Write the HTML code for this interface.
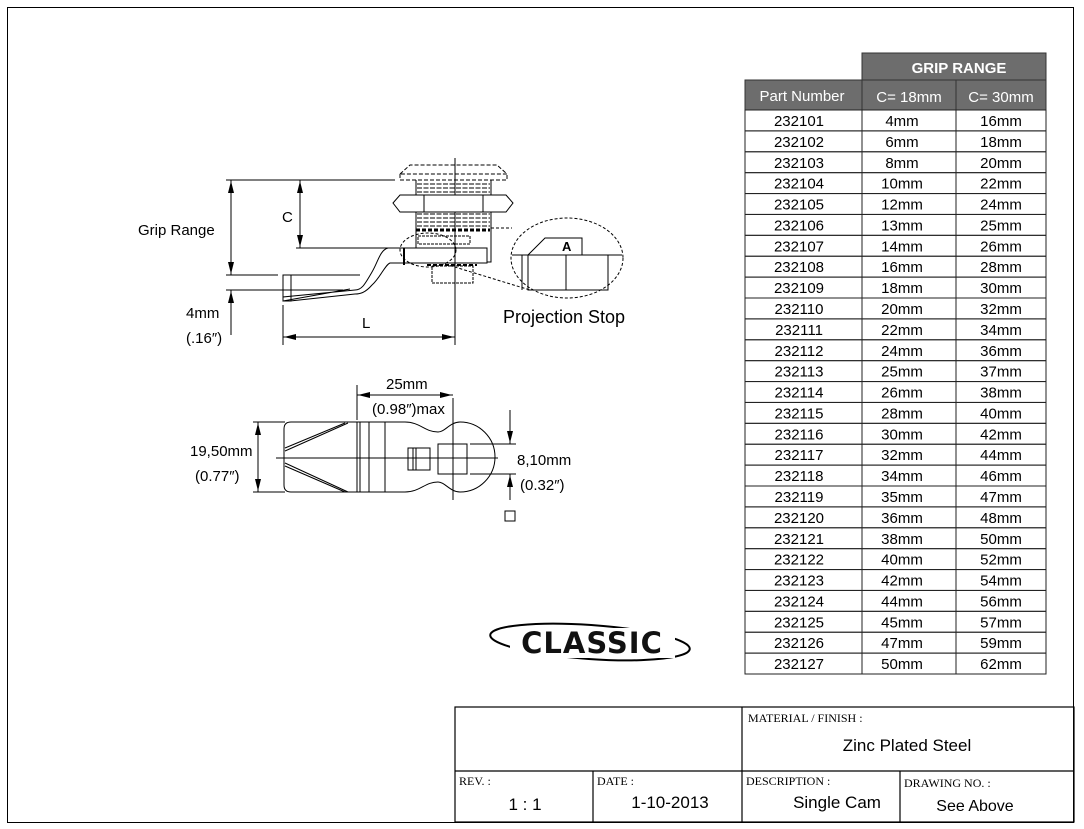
<!DOCTYPE html>
<html><head><meta charset="utf-8"><style>
body{margin:0;background:#fff;width:1084px;height:829px;overflow:hidden;font-family:"Liberation Sans",sans-serif}
svg{position:absolute;left:0;top:0}
</style></head><body>
<svg width="1084" height="829" viewBox="0 0 1084 829" font-family="Liberation Sans, sans-serif">
<rect x="7.5" y="7.5" width="1066" height="815" fill="none" stroke="#000"/>
<!-- table -->
<rect x="862" y="53" width="184" height="27" fill="#6d6d6d" stroke="#333"/>
<text x="959" y="73" fill="#fff" font-size="15" font-weight="bold" text-anchor="middle">GRIP RANGE</text>
<rect x="745" y="80" width="301" height="30" fill="#6d6d6d" stroke="#333"/>
<line x1="862" y1="80" x2="862" y2="110" stroke="#333"/>
<line x1="956" y1="80" x2="956" y2="110" stroke="#333"/>
<text x="802" y="101" fill="#fff" font-size="15" text-anchor="middle">Part Number</text>
<text x="909" y="102" fill="#fff" font-size="15" text-anchor="middle">C= 18mm</text>
<text x="1001" y="102" fill="#fff" font-size="15" text-anchor="middle">C= 30mm</text>
<g id="rows" font-size="15" text-anchor="middle"></g>
<!-- title block -->
<g stroke="#000" fill="none" stroke-width="1.2">
<rect x="455" y="707" width="619" height="115"/>
<line x1="455" y1="771" x2="1074" y2="771"/>
<line x1="742" y1="707" x2="742" y2="822"/>
<line x1="593" y1="771" x2="593" y2="822"/>
<line x1="900" y1="771" x2="900" y2="822"/>
</g>
<g font-family="Liberation Serif, serif" font-size="12">
<text x="748" y="722">MATERIAL / FINISH :</text>
<text x="459" y="785">REV. :</text>
<text x="597" y="785">DATE :</text>
<text x="746" y="785">DESCRIPTION :</text>
<text x="904" y="787">DRAWING NO. :</text>
</g>
<g font-size="17" text-anchor="middle">
<text x="907" y="751">Zinc Plated Steel</text>
<text x="525" y="810">1 : 1</text>
<text x="670" y="808">1-10-2013</text>
<text x="837" y="808">Single Cam</text>
<text x="975" y="811" font-size="16">See Above</text>
</g>
<!-- logo -->
<ellipse cx="590" cy="642" rx="100" ry="17" fill="none" stroke="#000" stroke-width="2" transform="rotate(4 590 642)"/>
<rect x="510" y="628" width="165" height="30" fill="#fff"/>
<text x="592" y="653" font-size="29" font-weight="900" text-anchor="middle" font-family="DejaVu Sans, sans-serif" fill="#111" letter-spacing="1">CLASSIC</text>
<!-- top drawing -->
<g stroke="#000" fill="none" stroke-width="1">
<line x1="455" y1="158" x2="455" y2="345"/>
<path d="M400,174 L410,165 L497,165 L507,174 L400,174 M400,174 L400,180 L507,180 L507,174" stroke-dasharray="4,2"/>
<path d="M416,180 L416,248 M491,180 L491,262 L487,262"/>
<g stroke-dasharray="5,1.5">
<line x1="417" y1="184" x2="490" y2="184"/><line x1="417" y1="188" x2="490" y2="188"/><line x1="417" y1="192" x2="490" y2="192"/>
<line x1="417" y1="214" x2="490" y2="214"/><line x1="417" y1="218" x2="490" y2="218"/><line x1="417" y1="222" x2="490" y2="222"/><line x1="417" y1="226" x2="490" y2="226"/>
</g>
<path d="M393,203 L400,195 L506,195 L513,203 L506,212 L400,212 Z" fill="#fff"/>
<line x1="424" y1="195" x2="424" y2="212"/><line x1="483" y1="195" x2="483" y2="212"/>
<line x1="416" y1="230" x2="490" y2="230" stroke-width="3" stroke-dasharray="4,2"/>
<rect x="418" y="236" width="52" height="8" stroke-dasharray="3,1"/>
<rect x="404" y="248" width="83" height="15"/>
<line x1="404" y1="248" x2="404" y2="265" stroke-width="2"/>
<rect x="432" y="266" width="41" height="17" stroke-dasharray="3,1"/>
<line x1="427" y1="265" x2="477" y2="265" stroke-width="2" stroke-dasharray="4,2"/>
<path d="M404,248 L388,248 C380,250 378,262 372,272 C365,284 362,290 355,290 L283,297 L283,301 L350,289"/>
<path d="M404,263 L390,263 C385,265 380,278 372,285 C365,293 360,294 355,294 L290,301"/>
<rect x="283" y="275" width="8" height="26"/>
<path d="M283,275 L360,275"/>
<ellipse cx="428" cy="250" rx="28" ry="17" stroke-dasharray="3,2"/>
<ellipse cx="567" cy="258" rx="56" ry="40" stroke-dasharray="3,2"/>
<line x1="491" y1="228" x2="512" y2="228" stroke-dasharray="3,2"/>
<line x1="445" y1="264" x2="530" y2="290" stroke-dasharray="3,2"/>
<path d="M512,255 L528,255 L545,238 L582,238 L582,255 L622,255"/>
<rect x="528" y="255" width="80" height="35"/>
<line x1="566" y1="255" x2="566" y2="290"/>
<line x1="522" y1="255" x2="522" y2="290"/>
<!-- dims -->
<line x1="226" y1="180" x2="395" y2="180"/>
<line x1="296" y1="248" x2="404" y2="248"/>
<line x1="226" y1="275" x2="278" y2="275"/>
<line x1="226" y1="290" x2="343" y2="290"/>
<line x1="231" y1="180" x2="231" y2="275"/>
<line x1="300" y1="180" x2="300" y2="248"/>
<line x1="231" y1="290" x2="231" y2="335"/>
<line x1="283" y1="305" x2="283" y2="345"/>
<line x1="283" y1="337" x2="455" y2="337"/>
</g>
<g fill="#000">
<path d="M231,181 l-3,12 h6z"/><path d="M231,274 l-3,-12 h6z"/>
<path d="M300,181 l-3,12 h6z"/><path d="M300,247 l-3,-12 h6z"/>
<path d="M231,291 l-3,12 h6z"/>
<path d="M284,337 l12,-3 v6z"/><path d="M454,337 l-12,-3 v6z"/>
</g>
<g font-size="15">
<text x="138" y="235">Grip Range</text>
<text x="282" y="222">C</text>
<text x="562" y="251" font-weight="bold" font-size="13">A</text>
<text x="503" y="323" font-size="18">Projection Stop</text>
<text x="186" y="318">4mm</text>
<text x="186" y="343">(.16″)</text>
<text x="362" y="328">L</text>
</g>
<!-- bottom drawing -->
<g stroke="#000" fill="none" stroke-width="1">
<path d="M291,422 L405,422 C420,422 425,432 438,432 C445,432 450,422 460,422 A32,32 0 0 1 460,492 C450,492 445,482 438,482 C425,482 420,492 405,492 L291,492 Q284,492 284,485 L284,429 Q284,422 291,422 Z"/>
<line x1="357" y1="422" x2="357" y2="492"/><line x1="360" y1="422" x2="360" y2="492"/>
<line x1="369" y1="422" x2="369" y2="492"/><line x1="385" y1="422" x2="385" y2="492"/>
<path d="M285,448 L345,423 M285,451 L348,423"/>
<path d="M285,466 L345,492 M285,463 L348,492"/>
<line x1="276" y1="458" x2="498" y2="458"/>
<rect x="408" y="448" width="22" height="22"/>
<line x1="413" y1="448" x2="413" y2="470"/><line x1="416" y1="448" x2="416" y2="470"/>
<rect x="438" y="444" width="29" height="30"/>
<line x1="453" y1="398" x2="453" y2="500"/>
<line x1="357" y1="385" x2="357" y2="420"/>
<line x1="253" y1="422" x2="285" y2="422"/><line x1="253" y1="492" x2="285" y2="492"/>
<line x1="258" y1="422" x2="258" y2="492"/>
<line x1="357" y1="395" x2="453" y2="395"/>
<line x1="470" y1="444" x2="516" y2="444"/><line x1="470" y1="474" x2="516" y2="474"/>
<line x1="510" y1="410" x2="510" y2="444"/><line x1="510" y1="474" x2="510" y2="500"/>
<rect x="505" y="511" width="10" height="10"/>
</g>
<g fill="#000">
<path d="M258,423 l-3,12 h6z"/><path d="M258,491 l-3,-12 h6z"/>
<path d="M358,395 l12,-3 v6z"/><path d="M452,395 l-12,-3 v6z"/>
<path d="M510,443 l-3,-12 h6z"/><path d="M510,475 l-3,12 h6z"/>
</g>
<g font-size="15">
<text x="386" y="389">25mm</text>
<text x="372" y="414">(0.98″)max</text>
<text x="190" y="456">19,50mm</text>
<text x="195" y="481">(0.77″)</text>
<text x="517" y="465">8,10mm</text>
<text x="520" y="490">(0.32″)</text>
</g>
</svg>
<script>
var c18=[4,6,8,10,12,13,14,16,18,20,22,24,25,26,28,30,32,34,35,36,38,40,42,44,45,47,50];
var c30=[16,18,20,22,24,25,26,28,30,32,34,36,37,38,40,42,44,46,47,48,50,52,54,56,57,59,62];
var g=document.getElementById('rows'),h=(674-110)/27,s='';
for(var i=0;i<27;i++){var y=110+i*h;
s+='<rect x="745" y="'+y+'" width="301" height="'+h+'" fill="none" stroke="#222"/>';
s+='<line x1="862" y1="'+y+'" x2="862" y2="'+(y+h)+'" stroke="#222"/><line x1="956" y1="'+y+'" x2="956" y2="'+(y+h)+'" stroke="#222"/>';
s+='<text x="799" y="'+(y+16)+'">'+(232101+i)+'</text><text x="902" y="'+(y+16)+'">'+c18[i]+'mm</text><text x="1001" y="'+(y+16)+'">'+c30[i]+'mm</text>';}
g.innerHTML=s;
</script>
</body></html>
